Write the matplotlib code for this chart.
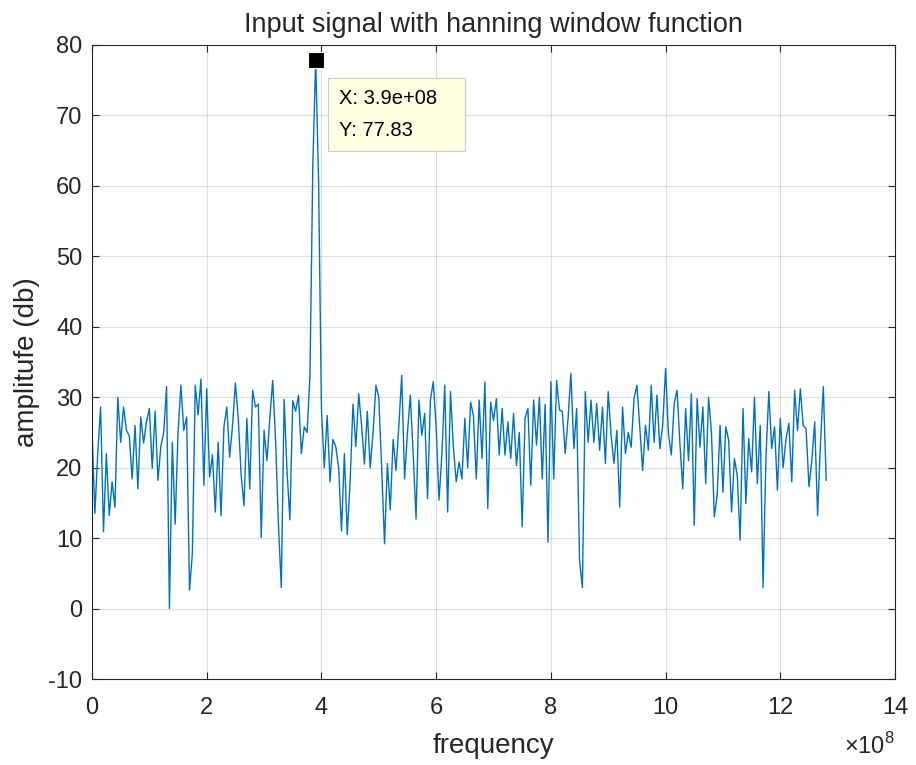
import numpy as np
import matplotlib
matplotlib.use("Agg")
import matplotlib.pyplot as plt
from matplotlib.ticker import FuncFormatter

# spectrum (5 MHz bins)
bin_step = 5e6
amplitude_db = [
    25.5, 13.5, 22, 28.6, 10.9, 22, 13.2, 18, 14.4, 30,
    23.6, 28.6, 25.3, 24.5, 18.4, 26, 17, 27.2, 23.5, 26.5,
    28.4, 19.9, 28, 18.2, 23, 25, 31.5, 0, 23.6, 12,
    25, 31.7, 25.3, 27.2, 2.6, 7.8, 31.7, 27.5, 32.6, 17.5,
    31.2, 18.7, 21.8, 13.7, 23.6, 13.2, 25.8, 28.6, 21.5, 26,
    32, 27, 19, 14.6, 27, 17, 31, 28.6, 29, 10.1,
    25.3, 21, 27, 32.4, 24, 12, 3, 29.7, 19.5, 12.6,
    29.5, 28, 30.3, 22, 25.8, 25, 33, 63, 77.83, 61,
    28.4, 20, 27.4, 18, 24, 23, 20, 11, 22, 10.5,
    18, 29, 23, 30.5, 26, 20.5, 28, 20, 25, 31.7,
    30, 20, 9.2, 20.6, 14, 24, 19.6, 26, 33.1, 18.4,
    25, 30.3, 21.8, 12.7, 29.6, 24.6, 27.7, 15.6, 29.6, 32.2,
    25.8, 15.4, 21.8, 31.7, 13.7, 30.8, 23, 18, 20.8, 18.4,
    27, 20, 29.3, 27.4, 18.4, 29.6, 21.3, 32.2, 14.2, 29.3,
    26.7, 29.8, 21.8, 28.4, 21.8, 26.5, 21.3, 27.7, 20.3, 25,
    11.6, 27, 28.4, 17.5, 29.6, 23.2, 30, 18.4, 29, 9.4,
    32.2, 18.4, 32.4, 28.2, 28, 22, 27, 33.4, 22.7, 28.4,
    6.8, 3, 30.8, 23.6, 29.6, 23.6, 29.1, 22.5, 28.6, 20.6,
    30.8, 24.6, 20.6, 25.3, 14.4, 28.6, 22, 25, 22.9, 29.8,
    31.7, 25.8, 19.6, 26, 22.5, 31.7, 23.6, 30.3, 22.7, 26,
    34.1, 24.8, 21.8, 29.1, 31, 23.4, 17, 28.4, 21, 30.5,
    11.8, 29.8, 22.9, 28.6, 17.7, 30, 25, 13, 16.1, 26,
    16.5, 25.8, 23.9, 13.7, 21.3, 18.9, 9.7, 28.4, 14.9, 24.1,
    19.4, 30, 17.7, 26, 3, 21.5, 30.8, 22.7, 25.8, 16.8,
    27, 20, 24.1, 26.3, 18, 31, 25.3, 31.2, 26, 25.5,
    17.3, 21, 26.5, 13.2, 23.4, 31.5, 18.2,
]
peak_freq = 3.9e8
peak_amp = 77.83
xticks = np.arange(0, 14.1e8, 2e8)
yticks = np.arange(-10, 81, 10)

freq = np.arange(len(amplitude_db)) * bin_step

plt.rcParams['font.family'] = ['Liberation Sans', 'DejaVu Sans']
plt.rcParams['mathtext.fontset'] = 'custom'
plt.rcParams['mathtext.rm'] = 'Liberation Sans'
plt.rcParams['axes.unicode_minus'] = False
dark = '#262626'

fig = plt.figure(figsize=(9.16, 7.65), dpi=100)
ax = fig.add_axes([92 / 916, 1 - 679 / 765, (895 - 92) / 916, (679 - 45) / 765])

ax.plot(freq, amplitude_db, color='#0072BD', linewidth=1.0)
ax.plot(peak_freq, peak_amp, marker='s', markersize=11, color='black',
        markeredgecolor='#FFFFE1', markeredgewidth=0.8, zorder=5)

tip = f"X: {peak_freq:.1e}   \nY: {peak_amp:.2f}"
ax.annotate(tip, xy=(peak_freq, peak_amp), xytext=(23, -29),
            textcoords='offset pixels', ha='left', va='top', fontsize=14.5,
            color='black', linespacing=1.85,
            bbox=dict(boxstyle='square,pad=0.55', fc='#FFFFE1', ec='#C8C8C8', lw=0.8),
            zorder=6)

ax.set_xlim(0, 14e8)
ax.set_ylim(-10, 80)
ax.set_xticks(xticks)
ax.set_yticks(yticks)
ax.xaxis.set_major_formatter(FuncFormatter(lambda v, p: f"{v / 1e8:g}"))
fig.text(895 / 916, 1 - 746 / 765, r"$\times10^{8}$", ha='right', va='center',
         fontsize=17, color=dark)

ax.grid(True, color=dark, alpha=0.15, linewidth=0.8)
ax.set_axisbelow(True)
ax.tick_params(direction='in', top=True, right=True, labelsize=17,
               colors=dark, length=5, width=0.8)
ax.tick_params(axis='x', pad=13)
ax.tick_params(axis='y', pad=7)
for s in ax.spines.values():
    s.set_color(dark)
    s.set_linewidth(0.8)

ax.set_xlabel("frequency", fontsize=20, color=dark, labelpad=10)
ax.set_ylabel("amplitufe (db)", fontsize=20, color=dark, labelpad=6)
ax.set_title("Input signal with hanning window function", fontsize=19.5,
             color=dark, pad=9)

fig.savefig("out.png", dpi=100)
